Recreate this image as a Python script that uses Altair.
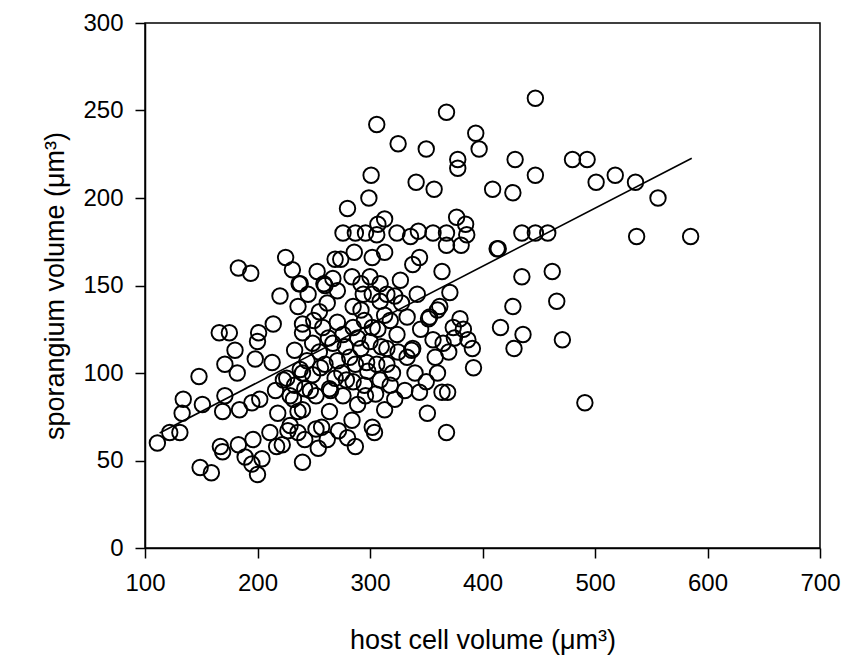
import altair as alt
import pandas as pd

# host cell volume (um^3) and sporangium volume (um^3)
host_volume = [
    111, 122, 131, 133, 134, 151, 148, 166, 175, 180, 171, 182, 171, 169, 184, 195,
    198, 200, 201, 214, 213, 223, 218, 232, 227, 236, 240, 247, 240, 233, 244, 233,
    240, 249, 236, 240, 217, 240, 167, 169, 183, 189, 195, 149, 159, 200, 183, 194,
    220, 225, 231, 237, 253, 259, 267, 262, 271, 269, 274, 286, 302, 276, 287, 296,
    307, 313, 324, 280, 299, 301, 368, 306, 325, 350, 394, 397, 378, 378, 409, 341,
    357, 306, 336, 343, 356, 368, 377, 385, 386, 381, 368, 413, 313, 344, 338, 364,
    260, 284, 292, 300, 309, 327, 294, 302, 315, 322, 342, 371, 285, 292, 309, 313,
    333, 352, 360, 380, 383, 374, 238, 258, 271, 276, 267, 289, 302, 307, 324, 338,
    333, 315, 292, 282, 271, 256, 297, 306, 320, 358, 391, 387, 392, 447, 429, 480,
    493, 447, 518, 427, 501, 536, 556, 537, 435, 447, 458, 414, 435, 462, 466, 427,
    416, 436, 428, 471, 491, 585, 362, 353, 356, 337, 344, 364, 369, 351, 368, 304,
    196, 204, 211, 222, 229, 236, 242, 254, 257, 264, 272, 280, 284, 289, 296, 276,
    264, 252, 242, 229, 216, 202, 226, 238, 249, 260, 269, 279, 287, 298, 309, 313,
    322, 331, 318, 302, 287, 252, 262, 250, 255, 263, 278, 285, 295, 300, 310, 318,
    328, 245, 255, 265, 275, 285, 295, 305, 315, 325, 345, 340, 350, 360, 370, 375,
    365,
]
sporangium_volume = [
    60, 66, 66, 77, 85, 82, 98, 123, 123, 113, 105, 100, 87, 78, 79, 83,
    108, 118, 123, 128, 106, 96, 77, 85, 67, 66, 79, 90, 100, 93, 107, 113,
    123, 117, 138, 128, 58, 49, 58, 55, 59, 52, 48, 46, 43, 42, 160, 157,
    144, 166, 159, 151, 158, 151, 154, 140, 147, 165, 165, 169, 166, 180, 180, 180,
    185, 188, 180, 194, 200, 213, 249, 242, 231, 228, 237, 228, 222, 217, 205, 209,
    205, 179, 178, 181, 180, 180, 189, 185, 179, 173, 173, 171, 169, 166, 162, 158,
    150, 155, 151, 155, 151, 153, 145, 145, 145, 144, 145, 146, 138, 136, 141, 133,
    132, 131, 136, 131, 125, 126, 151, 126, 129, 122, 117, 120, 126, 125, 122, 114,
    109, 114, 114, 109, 107, 103, 106, 105, 100, 109, 114, 119, 103, 257, 222, 222,
    222, 213, 213, 203, 209, 209, 200, 178, 180, 180, 180, 171, 155, 158, 141, 138,
    126, 122, 114, 119, 83, 178, 138, 132, 119, 113, 89, 89, 89, 77, 66, 66,
    62, 51, 66, 59, 70, 78, 62, 57, 69, 78, 67, 63, 73, 82, 87, 87,
    91, 87, 91, 87, 90, 85, 97, 102, 99, 105, 97, 96, 105, 101, 96, 79,
    85, 90, 93, 69, 58, 68, 62, 130, 112, 120, 115, 126, 130, 118, 115, 130,
    140, 145, 135, 90, 100, 95, 93, 88, 105, 112, 125, 100, 95, 100, 112, 120,
    117,
]

# fitted regression line (end points)
fit_x = [113, 586]
fit_y = [65.7, 222.7]

x_ticks = [100, 200, 300, 400, 500, 600, 700]
y_ticks = [0, 50, 100, 150, 200, 250, 300]

pts = pd.DataFrame({"host": host_volume, "spor": sporangium_volume})
fit = pd.DataFrame({"host": fit_x, "spor": fit_y})

FONT = "Liberation Sans"

x_enc = alt.X(
    "host:Q",
    scale=alt.Scale(domain=[100, 700], nice=False, zero=False),
    axis=alt.Axis(
        values=x_ticks,
        title="host cell volume (μm³)",
        titleFontSize=27,
        titleFontWeight="normal",
        titleFont=FONT,
        titleColor="black",
        titleBaseline="middle",
        titleY=92,
        labelFontSize=24,
        labelFont=FONT,
        labelColor="black",
        labelPadding=13,
        tickSize=10,
        tickColor="black",
        tickWidth=1.5,
        domainColor="black",
        domainWidth=1.5,
        grid=False,
        labelFlush=False,
    ),
)
y_enc = alt.Y(
    "spor:Q",
    scale=alt.Scale(domain=[0, 300], nice=False, zero=False),
    axis=alt.Axis(
        values=y_ticks,
        title="sporangium volume (μm³)",
        titleFontSize=27,
        titleFontWeight="normal",
        titleFont=FONT,
        titleColor="black",
        titleBaseline="middle",
        titleX=-90,
        labelFontSize=24,
        labelFont=FONT,
        labelColor="black",
        labelPadding=12,
        tickSize=10,
        tickColor="black",
        tickWidth=1.5,
        domainColor="black",
        domainWidth=1.5,
        grid=False,
        labelFlush=False,
    ),
)

points = alt.Chart(pts).mark_point(
    shape="circle", filled=False, stroke="black", strokeWidth=1.9, size=240, opacity=1
).encode(x=x_enc, y=y_enc)

line = alt.Chart(fit).mark_line(color="black", strokeWidth=1.6).encode(
    x=alt.X("host:Q"), y=alt.Y("spor:Q")
)

chart = (
    alt.layer(line, points)
    .properties(
        width=675,
        height=525,
        autosize=alt.AutoSizeParams(type="none"),
        padding={"left": 145, "top": 23, "right": 36, "bottom": 116},
        background="white",
    )
    .configure_view(stroke="black", strokeWidth=1.5)
)

chart.save("out.html", embed_options={"renderer": "svg", "actions": False})
